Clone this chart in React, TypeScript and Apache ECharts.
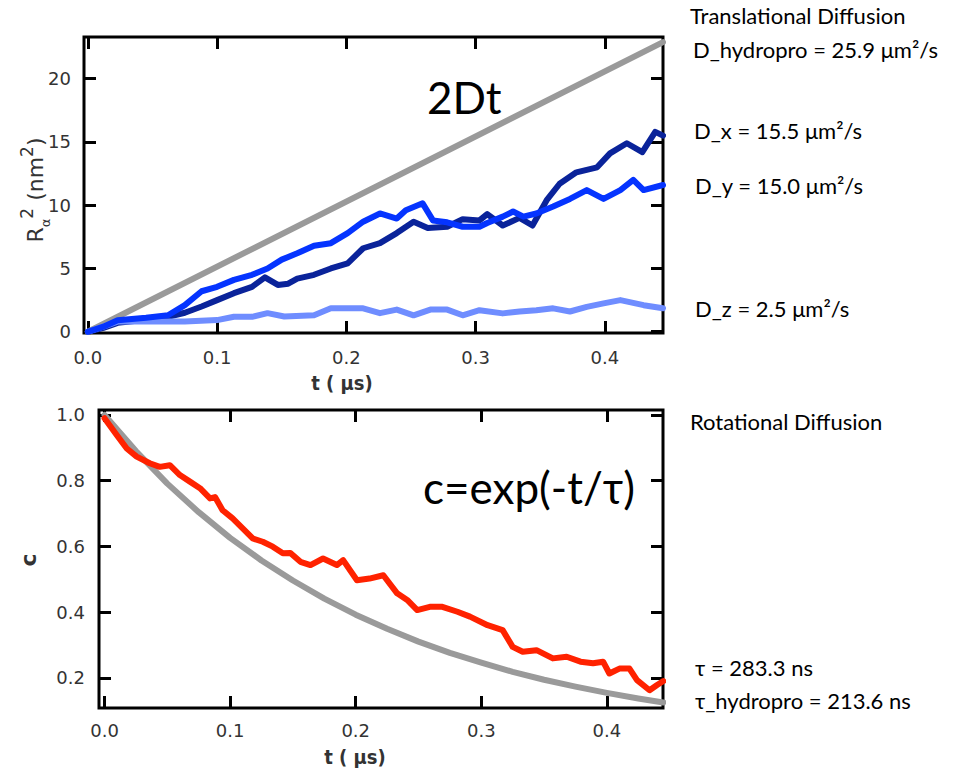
import React, { useEffect, useRef } from "react";
import * as echarts from "echarts";

// ---- Top panel: mean square displacement (nm^2) vs t (µs)
const dxT = [0, 0.012, 0.023, 0.045, 0.062, 0.075, 0.088, 0.100, 0.113, 0.127, 0.137, 0.147, 0.155, 0.162, 0.175, 0.188, 0.201, 0.213, 0.226, 0.239, 0.252, 0.263, 0.278, 0.290, 0.303, 0.309, 0.321, 0.334, 0.344, 0.355, 0.365, 0.378, 0.394, 0.404, 0.417, 0.429, 0.439, 0.445];
const dxV = [0, 0.3, 0.7, 0.95, 1.17, 1.5, 2.0, 2.5, 3.05, 3.55, 4.3, 3.7, 3.8, 4.2, 4.5, 5.0, 5.4, 6.6, 7.0, 7.8, 8.7, 8.2, 8.3, 8.9, 8.8, 9.3, 8.4, 9.0, 8.4, 10.4, 11.7, 12.6, 13.0, 14.1, 14.9, 14.2, 15.8, 15.5];

const dyT = [0, 0.012, 0.023, 0.045, 0.062, 0.075, 0.088, 0.100, 0.113, 0.127, 0.139, 0.150, 0.162, 0.175, 0.188, 0.201, 0.213, 0.226, 0.239, 0.246, 0.259, 0.267, 0.278, 0.290, 0.303, 0.309, 0.321, 0.329, 0.337, 0.347, 0.360, 0.373, 0.386, 0.399, 0.412, 0.422, 0.430, 0.445];
const dyV = [0, 0.4, 0.9, 1.1, 1.3, 2.1, 3.2, 3.55, 4.1, 4.5, 5.0, 5.7, 6.2, 6.8, 7.0, 7.8, 8.7, 9.35, 8.95, 9.6, 10.15, 8.8, 8.65, 8.3, 8.3, 8.6, 9.1, 9.5, 9.1, 9.35, 9.9, 10.5, 11.2, 10.5, 11.2, 12.0, 11.2, 11.6];

const dzT = [0, 0.012, 0.023, 0.049, 0.075, 0.100, 0.113, 0.127, 0.139, 0.152, 0.175, 0.188, 0.213, 0.226, 0.239, 0.252, 0.265, 0.278, 0.290, 0.303, 0.321, 0.334, 0.347, 0.360, 0.373, 0.386, 0.399, 0.412, 0.430, 0.445];
const dzV = [0, 0.4, 0.8, 0.8, 0.8, 0.92, 1.18, 1.18, 1.47, 1.2, 1.3, 1.85, 1.85, 1.47, 1.75, 1.3, 1.75, 1.75, 1.3, 1.7, 1.45, 1.6, 1.7, 1.85, 1.6, 1.97, 2.24, 2.5, 2.1, 1.85];

const fitTopT = [0, 0.445];
const fitTopV = [0, 22.9];

const topYTicks = [0, 5, 10, 15, 20];
const xTicks = [0, 0.1, 0.2, 0.3, 0.4];

// ---- Bottom panel: rotational correlation c vs t (µs)
const cT = [0, 0.0097, 0.0177, 0.0256, 0.036, 0.044, 0.052, 0.060, 0.068, 0.076, 0.084, 0.088, 0.094, 0.102, 0.110, 0.118, 0.126, 0.134, 0.142, 0.148, 0.156, 0.164, 0.174, 0.185, 0.190, 0.201, 0.211, 0.222, 0.233, 0.241, 0.249, 0.259, 0.269, 0.281, 0.291, 0.305, 0.317, 0.325, 0.333, 0.344, 0.357, 0.368, 0.379, 0.389, 0.397, 0.402, 0.410, 0.418, 0.424, 0.434, 0.440, 0.445];
const cV = [0.99, 0.939, 0.898, 0.873, 0.853, 0.842, 0.847, 0.817, 0.797, 0.777, 0.746, 0.75, 0.71, 0.685, 0.655, 0.624, 0.614, 0.599, 0.579, 0.58, 0.553, 0.543, 0.563, 0.543, 0.558, 0.497, 0.502, 0.512, 0.457, 0.437, 0.406, 0.416, 0.416, 0.401, 0.386, 0.36, 0.345, 0.294, 0.279, 0.284, 0.259, 0.264, 0.249, 0.244, 0.249, 0.213, 0.228, 0.228, 0.193, 0.162, 0.178, 0.19];

const fitBotT = [0, 0.025, 0.05, 0.075, 0.1, 0.125, 0.15, 0.175, 0.2, 0.225, 0.25, 0.275, 0.3, 0.325, 0.35, 0.375, 0.4, 0.425, 0.445];
const fitBotV = [1.0, 0.89, 0.791, 0.704, 0.626, 0.557, 0.496, 0.441, 0.392, 0.349, 0.31, 0.276, 0.246, 0.218, 0.194, 0.173, 0.154, 0.137, 0.125];

const botYTicks = [0.2, 0.4, 0.6, 0.8, 1.0];

const zip = (t: number[], v: number[]) => t.map((x, i) => [x, v[i]]);

const TICK_FONT = "DejaVu Sans";
const TITLE_FONT = "DejaVu Sans Condensed, DejaVu Sans";
const TEXT_FONT = "Lato";

function axis(
  gridIndex: number,
  position: string,
  min: number,
  max: number,
  ticks: number[],
  showLabel: boolean,
  fmt: (v: number) => string,
  margin: number
) {
  return {
    type: "value",
    gridIndex,
    position,
    min,
    max,
    axisLine: { show: false, onZero: false },
    splitLine: { show: false },
    axisTick: {
      show: true,
      inside: true,
      length: 12,
      customValues: ticks,
      lineStyle: { color: "#000", width: 3 },
    },
    axisLabel: {
      show: showLabel,
      customValues: ticks,
      formatter: fmt,
      color: "#333",
      fontSize: 18,
      fontFamily: TICK_FONT,
      margin,
    },
  };
}

export default function App() {
  const ref = useRef<HTMLDivElement>(null);
  useEffect(() => {
    if (!ref.current) return;
    const chart = echarts.init(ref.current, undefined, { renderer: "svg" });
    const f1 = (v: number) => v.toFixed(1);
    const f0 = (v: number) => String(Math.round(v));
    const lineSeries = (name: string, data: number[][], color: string, xi: number, yi: number) => ({
      name,
      type: "line",
      xAxisIndex: xi,
      yAxisIndex: yi,
      data,
      showSymbol: false,
      symbol: "none",
      lineStyle: { color, width: 6, join: "round", cap: "round" },
      clip: true,
    });
    const txt = (text: string, x: number, y: number, size: number, extra: any = {}) => ({
      type: "text",
      x,
      y,
      style: {
        text,
        fontSize: size,
        fontFamily: TEXT_FONT,
        fill: "#000",
        verticalAlign: "middle",
        align: "left",
        ...extra,
      },
    });
    const option: any = {
      animation: false,
      grid: [
        { left: 84, top: 37, width: 579, height: 296, show: true, borderColor: "#000", borderWidth: 3, backgroundColor: "transparent" },
        { left: 99, top: 410, width: 564, height: 298, show: true, borderColor: "#000", borderWidth: 3, backgroundColor: "transparent" },
      ],
      xAxis: [
        axis(0, "bottom", -0.003, 0.445, xTicks, true, f1, 15),
        axis(0, "top", -0.003, 0.445, xTicks, false, f1, 15),
        axis(1, "bottom", -0.0044, 0.4447, xTicks, true, f1, 13),
        axis(1, "top", -0.0044, 0.4447, xTicks, false, f1, 13),
      ],
      yAxis: [
        axis(0, "left", -0.1, 23.3, topYTicks, true, f0, 13),
        axis(0, "right", -0.1, 23.3, topYTicks, false, f0, 13),
        axis(1, "left", 0.108, 1.015, botYTicks, true, f1, 14),
        axis(1, "right", 0.108, 1.015, botYTicks, false, f1, 14),
      ],
      series: [
        lineSeries("2Dt", zip(fitTopT, fitTopV), "#9a9a9a", 0, 0),
        lineSeries("D_x", zip(dxT, dxV), "#0a239a", 0, 0),
        lineSeries("D_z", zip(dzT, dzV), "#6f8dff", 0, 0),
        lineSeries("D_y", zip(dyT, dyV), "#0534ff", 0, 0),
        lineSeries("exp fit", zip(fitBotT, fitBotV), "#9a9a9a", 2, 2),
        lineSeries("c", zip(cT, cV), "#ff2200", 2, 2),
      ],
      graphic: [
        // axis titles
        {
          type: "text",
          x: 35,
          y: 190,
          rotation: Math.PI / 2,
          style: {
            text: "{b|R}{sub|α}{sup|2}{b| (nm}{sup|2}{b|)}",
            align: "center",
            verticalAlign: "middle",
            fill: "#333",
            rich: {
              b: { fontSize: 22, fontFamily: TICK_FONT, fill: "#333", lineHeight: 34, verticalAlign: "middle" },
              sup: { fontSize: 17, fontFamily: TICK_FONT, fill: "#333", lineHeight: 17, verticalAlign: "top" },
              sub: { fontSize: 13, fontFamily: TICK_FONT, fill: "#333", lineHeight: 13, verticalAlign: "bottom" },
            },
          },
        },
        {
          type: "text",
          x: 28,
          y: 560,
          rotation: Math.PI / 2,
          style: { text: "c", fontSize: 22, fontFamily: TICK_FONT, fontWeight: "bold", fill: "#333", align: "center", verticalAlign: "middle" },
        },
        {
          type: "text",
          x: 342,
          y: 383,
          style: { text: "t ( μs)", fontSize: 20, fontFamily: TITLE_FONT, fontWeight: "bold", fill: "#333", align: "center", verticalAlign: "middle" },
        },
        {
          type: "text",
          x: 355,
          y: 757,
          style: { text: "t ( μs)", fontSize: 20, fontFamily: TITLE_FONT, fontWeight: "bold", fill: "#333", align: "center", verticalAlign: "middle" },
        },
        // in-plot annotations
        txt("2Dt", 427, 97, 44),
        txt("c=exp(-t/τ)", 423, 487, 44),
        // right-side notes
        txt("Translational Diffusion", 690, 15, 22),
        txt("D_hydropro = 25.9 μm²/s", 693, 49, 22),
        txt("D_x = 15.5 μm²/s", 694, 130, 22),
        txt("D_y = 15.0 μm²/s", 695, 185, 22),
        txt("D_z = 2.5 μm²/s", 695, 308, 22),
        txt("Rotational Diffusion", 690, 421, 22),
        txt("τ = 283.3 ns", 695, 667, 22),
        txt("τ_hydropro = 213.6 ns", 695, 700, 22),
      ],
    };
    chart.setOption(option);
    return () => chart.dispose();
  }, []);
  return (
    <div
      ref={ref}
      style={{ position: "fixed", left: 0, top: 0, width: 959, height: 781, background: "#fff" }}
    />
  );
}
